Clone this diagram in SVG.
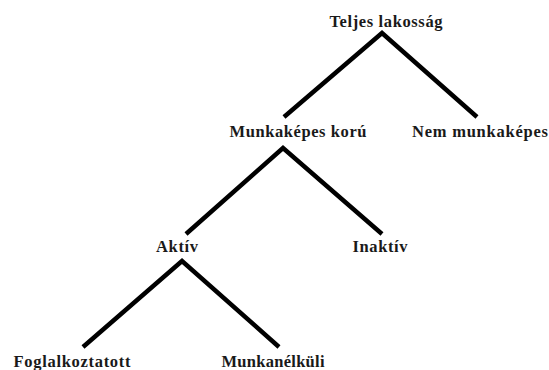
<svg xmlns="http://www.w3.org/2000/svg" width="549" height="370" viewBox="0 0 549 370">
<style>
text{font-family:"Liberation Serif","DejaVu Serif",serif;font-weight:bold;font-size:16.5px;fill:#1a1a1a;}
.e{stroke:#000;stroke-width:4.5;fill:none;stroke-linecap:butt;stroke-linejoin:miter;}
</style>
<rect width="549" height="370" fill="#fff"/>
<g id="connectors">
<polyline class="e" points="284,117 382,33 477,117"/>
<polyline class="e" points="186,234 283,148 382,234"/>
<polyline class="e" points="83,347 182,261 279,347"/>
</g>
<g id="n-teljes"><text x="386" y="27" text-anchor="middle" textLength="113">Teljes lakosság</text></g>
<g id="n-munkakepes"><text x="298" y="137" text-anchor="middle" textLength="137">Munkaképes korú</text></g>
<g id="n-nem"><text x="480" y="137" text-anchor="middle" textLength="136">Nem munkaképes</text></g>
<g id="n-aktiv"><text x="177" y="252" text-anchor="middle" textLength="42">Aktív</text></g>
<g id="n-inaktiv"><text x="380" y="252" text-anchor="middle" textLength="55">Inaktív</text></g>
<g id="n-fogl"><text x="72" y="367" text-anchor="middle" textLength="117">Foglalkoztatott</text></g>
<g id="n-munkanelkuli"><text x="273" y="367" text-anchor="middle" textLength="103">Munkanélküli</text></g>
</svg>
